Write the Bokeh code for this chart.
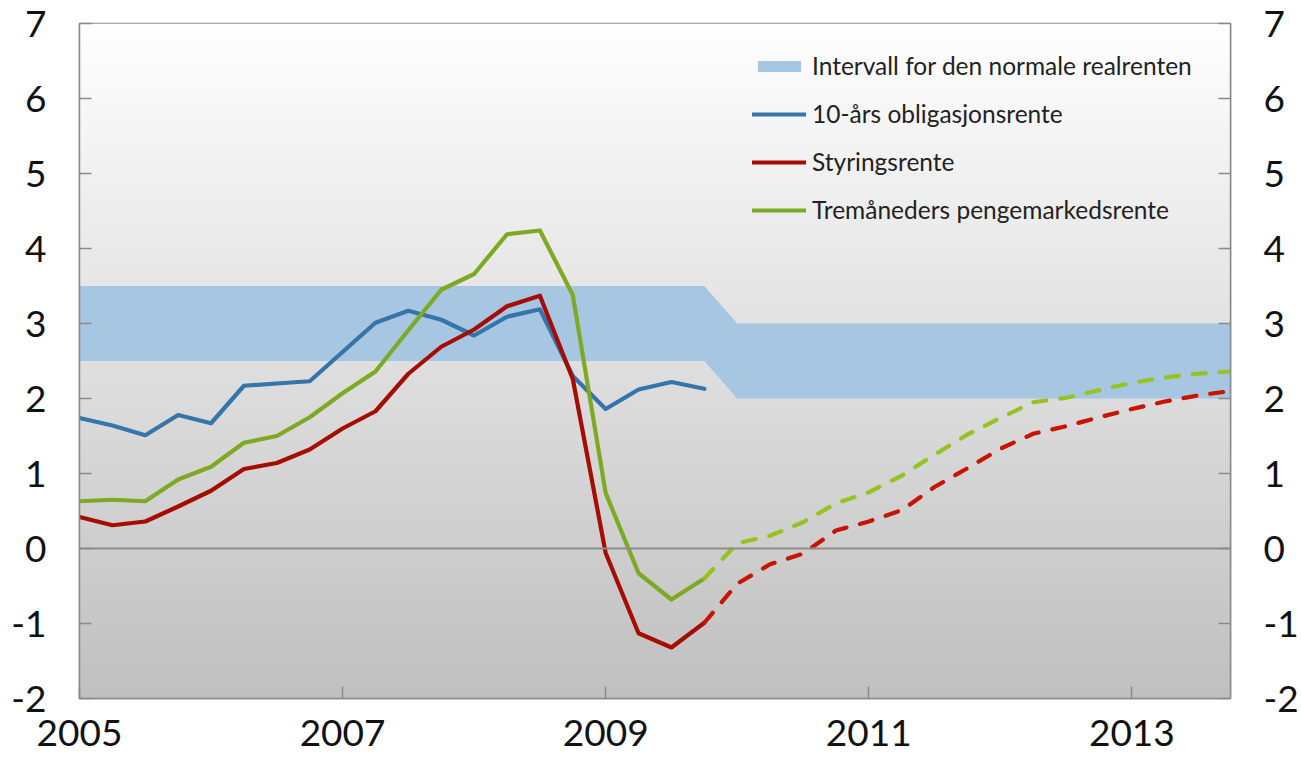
import numpy as np
from bokeh.plotting import figure
from bokeh.models import LinearAxis, FixedTicker, Span, Legend, LegendItem, Range1d
from bokeh.embed import file_html
from bokeh.resources import INLINE

# ---- data (quarterly, decimal years) ----
x_hist = [2005.0, 2005.25, 2005.5, 2005.75, 2006.0, 2006.25, 2006.5, 2006.75,
          2007.0, 2007.25, 2007.5, 2007.75, 2008.0, 2008.25, 2008.5, 2008.75,
          2009.0, 2009.25, 2009.5, 2009.75]
x_fc = [2009.75, 2010.0, 2010.25, 2010.5, 2010.75, 2011.0, 2011.25, 2011.5, 2011.75,
        2012.0, 2012.25, 2012.5, 2012.75, 2013.0, 2013.25, 2013.5, 2013.75]

bond10 = [1.74, 1.64, 1.51, 1.78, 1.67, 2.17, 2.20, 2.23, 2.62, 3.01, 3.17, 3.05,
          2.84, 3.09, 3.19, 2.30, 1.86, 2.12, 2.22, 2.13]
policy_hist = [0.42, 0.31, 0.36, 0.56, 0.77, 1.06, 1.14, 1.32, 1.60, 1.83, 2.33, 2.69,
               2.92, 3.23, 3.37, 2.26, -0.06, -1.13, -1.32, -0.99]
policy_fc = [-0.99, -0.47, -0.21, -0.07, 0.24, 0.36, 0.51, 0.82, 1.07, 1.33, 1.53,
             1.63, 1.75, 1.86, 1.96, 2.04, 2.10]
money3m_hist = [0.63, 0.65, 0.63, 0.92, 1.09, 1.41, 1.50, 1.75, 2.07, 2.36, 2.91, 3.45,
                3.66, 4.19, 4.24, 3.38, 0.74, -0.33, -0.68, -0.40]
money3m_fc = [-0.40, 0.07, 0.17, 0.35, 0.60, 0.75, 0.97, 1.25, 1.52, 1.74, 1.95, 2.01,
              2.11, 2.21, 2.28, 2.33, 2.36]

band_x = x_hist + x_fc[1:]
band_low = [2.5] * 20 + [2.0] * 16
band_high = [3.5] * 20 + [3.0] * 16

x_ticks = [2005, 2007, 2009, 2011, 2013]
x_tick_labels = ["2005", "2007", "2009", "2011", "2013"]
y_ticks = [-2, -1, 0, 1, 2, 3, 4, 5, 6, 7]
y_tick_labels = ["-2", "-1", "0", "1", "2", "3", "4", "5", "6", "7"]

labels = ["Intervall for den normale realrenten", "10-års obligasjonsrente",
          "Styringsrente", "Tremåneders pengemarkedsrente"]

# ---- styles ----
FONT = "Lato"
AXIS_COLOR = "#8a8a8a"
BAND_COLOR = "#a6c6e2"
BLUE = "#3575a9"
RED = "#a50d00"
RED_FC = "#c81400"
GREEN = "#7daa22"
GREEN_FC = "#96c31e"

X0, X1, Y0, Y1 = 2005.0, 2013.75, -2.0, 7.0

p = figure(width=1301, height=763, output_backend="svg", toolbar_location=None,
           x_range=Range1d(X0, X1), y_range=Range1d(Y0, Y1),
           min_border_left=79, min_border_right=71, min_border_top=23,
           min_border_bottom=65)
p.grid.visible = False
p.background_fill_color = "white"
p.border_fill_color = "white"
p.outline_line_color = AXIS_COLOR
p.outline_line_width = 1.5

# gradient background (white at top -> grey at bottom)
n = 675
g = np.linspace(192, 255, n).astype(np.uint8)
img = np.empty((n, 1), dtype=np.uint32)
view = img.view(dtype=np.uint8).reshape((n, 1, 4))
view[:, 0, 0] = g
view[:, 0, 1] = g
view[:, 0, 2] = g
view[:, 0, 3] = 255
p.image_rgba(image=[img], x=X0, y=Y0, dw=X1 - X0, dh=Y1 - Y0)

band = p.varea(x=band_x, y1=band_low, y2=band_high, fill_color=BAND_COLOR)

p.add_layout(Span(location=0, dimension="width", line_color="#8c8c8c", line_width=1.8))

blue = p.line(x_hist, bond10, line_color=BLUE, line_width=4.2, line_join="round", line_cap="round")
red = p.line(x_hist, policy_hist, line_color=RED, line_width=4.2, line_join="round", line_cap="round")
green = p.line(x_hist, money3m_hist, line_color=GREEN, line_width=4.2, line_join="round", line_cap="round")
p.line(x_fc, policy_fc, line_color=RED_FC, line_width=4.2, line_dash="13 14", line_cap="round", line_join="round")
p.line(x_fc, money3m_fc, line_color=GREEN_FC, line_width=4.2, line_dash="13 14", line_cap="round", line_join="round")


def style_axis(ax, standoff):
    ax.axis_line_color = AXIS_COLOR
    ax.axis_line_width = 1.5
    ax.major_tick_line_color = AXIS_COLOR
    ax.major_tick_line_width = 1.5
    ax.major_tick_in = 12
    ax.major_tick_out = 0
    ax.minor_tick_line_color = None
    ax.major_label_text_font = FONT
    ax.major_label_text_font_size = "37px"
    ax.major_label_text_color = "#111111"
    ax.major_label_standoff = standoff


p.xaxis.ticker = FixedTicker(ticks=x_ticks)
p.xaxis.major_label_overrides = dict(zip(x_ticks, x_tick_labels))
style_axis(p.xaxis[0], 21)

p.yaxis.ticker = FixedTicker(ticks=y_ticks)
p.yaxis.major_label_overrides = dict(zip(y_ticks, y_tick_labels))
style_axis(p.yaxis[0], 33)

right = LinearAxis(ticker=FixedTicker(ticks=y_ticks),
                   major_label_overrides=dict(zip(y_ticks, y_tick_labels)))
style_axis(right, 33)
p.add_layout(right, "right")

legend = Legend(items=[LegendItem(label=labels[0], renderers=[band]),
                       LegendItem(label=labels[1], renderers=[blue]),
                       LegendItem(label=labels[2], renderers=[red]),
                       LegendItem(label=labels[3], renderers=[green])],
                location=(673, 474))
legend.background_fill_alpha = 0
legend.border_line_color = None
legend.padding = 0
legend.margin = 0
legend.spacing = 19
legend.glyph_width = 54
legend.glyph_height = 14
legend.label_height = 29
legend.label_standoff = 6
legend.label_text_font = FONT
legend.label_text_font_size = "24.5px"
legend.label_text_color = "#222222"
p.add_layout(legend)

open("out.html", "w").write(file_html(p, INLINE))
